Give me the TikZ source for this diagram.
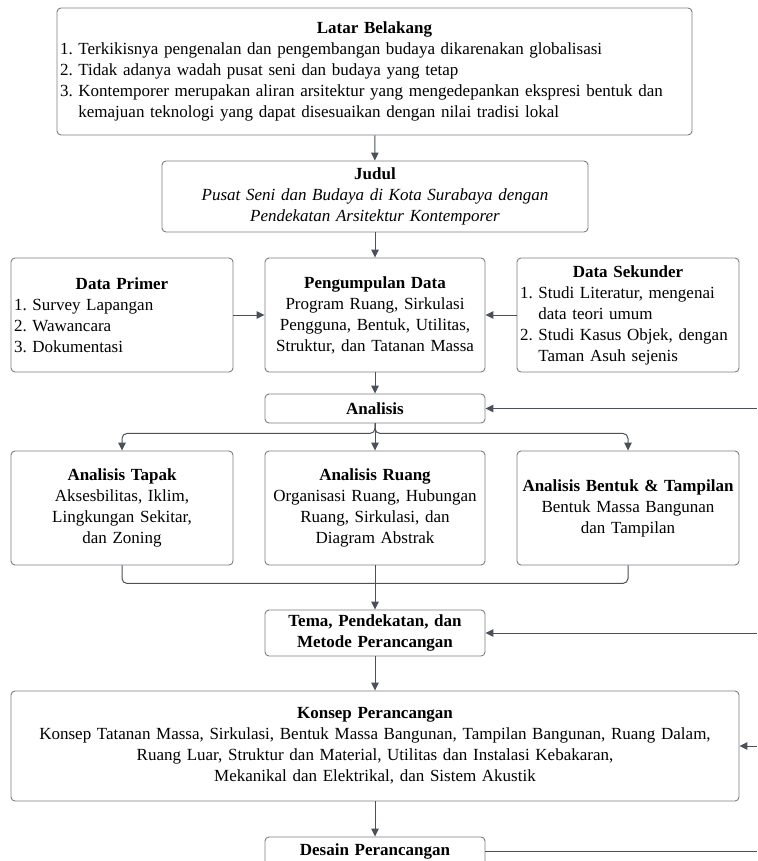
\documentclass[tikz,border=0pt]{standalone}
\usepackage{fontspec}
\setmainfont{Liberation Serif}
\usetikzlibrary{arrows.meta}
\definecolor{garis}{HTML}{7A7D82}
\definecolor{warnapanah}{HTML}{4A515B}
\newsavebox\nomorbox
\newcommand\butir[2]{\par\raggedright\sbox\nomorbox{#1\ }\hangindent=\wd\nomorbox\hangafter=1\noindent\usebox\nomorbox#2}
\newcommand\judulkotak[1]{{\centering\textbf{#1}\par}}
\newcommand\putus{\break}

\begin{document}
\begin{tikzpicture}[x=1pt,y=-1pt,
    kotak/.style={draw=garis,line width=0.9pt,rounded corners=4pt,inner xsep=3pt,inner ysep=0pt,
      font=\fontsize{17}{21}\selectfont},
    alur/.style={draw=warnapanah,line width=1pt,-{Triangle[length=8pt,width=7.5pt]}},
    polos/.style={draw=warnapanah,line width=1pt}]

    \useasboundingbox (0,0) rectangle (757,861);
    \clip (0,0) rectangle (757,861);

    \node[kotak,minimum width=635pt,minimum height=127pt,text width=629pt] (latar) at (374.5,71.5)
      {\judulkotak{Latar Belakang}
       \butir{1.}{Terkikisnya pengenalan dan pengembangan budaya dikarenakan globalisasi}
       \butir{2.}{Tidak adanya wadah pusat seni dan budaya yang tetap}
       \butir{3.}{Kontemporer merupakan aliran arsitektur yang mengedepankan ekspresi bentuk dan\putus kemajuan teknologi yang dapat disesuaikan dengan nilai tradisi lokal}\par};
    \node[kotak,minimum width=426pt,minimum height=71pt,text width=420pt,align=center] (judul) at (375,196.5)
      {\textbf{Judul}\\\textit{Pusat Seni dan Budaya di Kota Surabaya dengan}\\\textit{Pendekatan Arsitektur Kontemporer}};

    \node[kotak,minimum width=222pt,minimum height=114pt,text width=216pt] (primer) at (122,315)
      {\judulkotak{Data Primer}
       \butir{1.}{Survey Lapangan}
       \butir{2.}{Wawancara}
       \butir{3.}{Dokumentasi}\par};
    \node[kotak,minimum width=220pt,minimum height=114pt,text width=214pt,align=center] (kumpul) at (375,315)
      {\textbf{Pengumpulan Data}\\Program Ruang, Sirkulasi\\Pengguna, Bentuk, Utilitas,\\Struktur, dan Tatanan Massa};
    \node[kotak,minimum width=222pt,minimum height=114pt,text width=216pt] (sekunder) at (628,315)
      {\judulkotak{Data Sekunder}
       \butir{1.}{Studi Literatur, mengenai\putus data teori umum}
       \butir{2.}{Studi Kasus Objek, dengan\putus Taman Asuh sejenis}\par};

    \node[kotak,minimum width=220pt,minimum height=29pt,text width=214pt,align=center] (analisis) at (375,408.5)
      {\textbf{Analisis}};

    \node[kotak,minimum width=222pt,minimum height=114pt,text width=216pt,align=center] (tapak) at (122,508)
      {\textbf{Analisis Tapak}\\Aksesbilitas, Iklim,\\Lingkungan Sekitar,\\dan Zoning};
    \node[kotak,minimum width=220pt,minimum height=114pt,text width=214pt,align=center] (ruang) at (375,508)
      {\textbf{Analisis Ruang}\\Organisasi Ruang, Hubungan\\Ruang, Sirkulasi, dan\\Diagram Abstrak};
    \node[kotak,minimum width=222pt,minimum height=114pt,text width=218pt,inner xsep=2pt,align=center] (bentuk) at (628,508)
      {\textbf{Analisis Bentuk \& Tampilan}\\Bentuk Massa Bangunan\\dan Tampilan};

    \node[kotak,minimum width=220pt,minimum height=46pt,text width=214pt,align=center] (tema) at (375,633)
      {\textbf{Tema, Pendekatan, dan}\\\textbf{Metode Perancangan}};
    \node[kotak,minimum width=728pt,minimum height=110pt,text width=722pt,align=center] (konsep) at (375,746)
      {\textbf{Konsep Perancangan}\\Konsep Tatanan Massa, Sirkulasi, Bentuk Massa Bangunan, Tampilan Bangunan, Ruang Dalam,\\
       Ruang Luar, Struktur dan Material, Utilitas dan Instalasi Kebakaran,\\Mekanikal dan Elektrikal, dan Sistem Akustik};
    \node[kotak,minimum width=220pt,minimum height=28pt,text width=214pt,align=center] (desain) at (375,851)
      {\textbf{Desain Perancangan}};

    \coordinate (balik1) at (757,408.5);
    \coordinate (balik2) at (757,633);
    \coordinate (balik3) at (757,746);
    \coordinate (ujung) at (757,851);

    \draw[alur] (latar) -- (judul);
    \draw[alur] (judul) -- (kumpul);
    \draw[alur] (primer) -- (kumpul);
    \draw[alur] (sekunder) -- (kumpul);
    \draw[alur] (kumpul) -- (analisis);
    \draw[alur] (analisis) -- (ruang);
    \draw[alur,rounded corners=5pt] (analisis.south) -- ++(0,10) -| (tapak.north);
    \draw[alur,rounded corners=5pt] (analisis.south) -- ++(0,10) -| (bentuk.north);
    \draw[polos,rounded corners=5pt] (tapak.south) -- ++(0,18) -| (bentuk.south);
    \draw[alur] (ruang) -- (tema);
    \draw[alur] (tema) -- (konsep);
    \draw[alur] (konsep) -- (desain);
    \foreach \n/\m in {balik1/analisis,balik2/tema,balik3/konsep}
      \draw[alur] (\n) -- (\m);
    \draw[polos] (desain) -- (ujung);

\end{tikzpicture}
\end{document}
